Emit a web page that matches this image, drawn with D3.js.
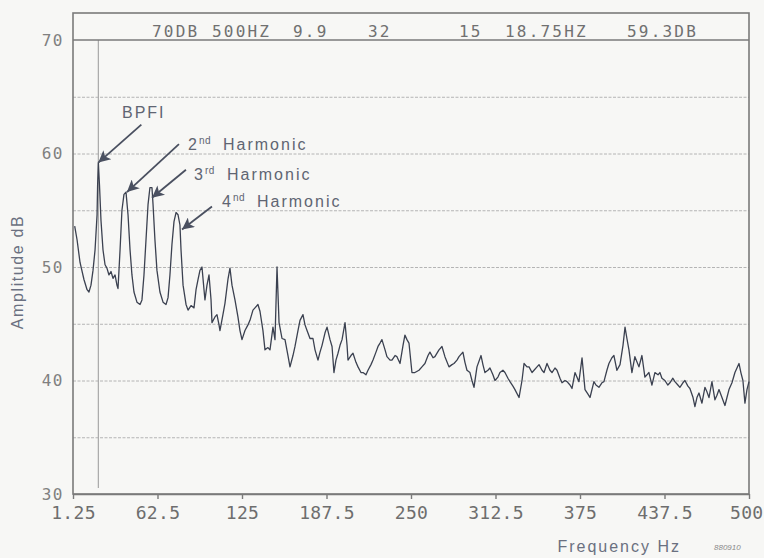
<!DOCTYPE html>
<html>
<head>
<meta charset="utf-8">
<script src="https://cdn.jsdelivr.net/npm/d3@7"></script>
<style>
  html, body { margin: 0; padding: 0; background: #f7f7f5; }
  svg { display: block; }
</style>
</head>
<body>
<div id="chart"></div>
<script>
// spectrum: frequency (Hz) and amplitude (dB)
const freqHz = [1.25, 3.0, 5.2, 8.1, 10.4, 11.8, 13.3, 14.8, 16.3, 17.8, 18.2, 18.75, 19.6, 20.7, 22.2, 23.7, 25.1, 26.6, 28.1, 29.6,
  31.1, 32.5, 33.3, 34.8, 36.2, 37.7, 39.2, 40.7, 42.2, 43.6, 45.1, 47.3, 49.6, 51.0, 52.5, 54.0, 55.5, 56.9, 58.4, 59.2,
  60.6, 62.1, 64.3, 66.6, 68.8, 70.3, 71.7, 73.2, 74.7, 76.2, 77.7, 79.1, 79.9, 81.4, 83.6, 85.1, 87.3, 89.5, 91.0, 92.5,
  93.9, 95.4, 96.9, 97.6, 99.1, 100.6, 102.1, 102.8, 105.0, 106.5, 108.0, 108.7, 110.9, 112.4, 114.6, 116.1, 117.6, 119.8, 122.0, 123.5,
  125.0, 127.2, 129.4, 130.9, 133.1, 134.6, 136.8, 138.3, 140.5, 142.0, 144.2, 145.7, 147.9, 149.4, 150.9, 152.4, 154.6, 156.8, 159.0, 160.5,
  162.7, 164.2, 166.4, 167.9, 170.1, 171.6, 173.1, 175.3, 177.5, 179.0, 181.2, 182.7, 184.2, 186.4, 187.9, 190.1, 191.6, 193.0, 194.5, 196.0,
  197.5, 199.0, 201.2, 202.7, 203.4, 205.6, 207.1, 209.3, 210.8, 213.0, 214.5, 216.7, 218.2, 220.4, 221.9, 224.1, 225.6, 227.1, 228.5, 230.8,
  232.2, 234.5, 235.9, 238.2, 239.6, 241.9, 244.1, 245.5, 247.0, 248.5, 250.7, 252.9, 255.9, 258.1, 260.3, 262.6, 264.0, 266.3, 267.7, 270.7,
  272.9, 275.1, 278.1, 280.3, 281.8, 284.0, 285.5, 288.4, 289.9, 291.4, 293.6, 295.1, 296.6, 298.8, 301.8, 303.2, 304.7, 306.9, 308.4, 310.6,
  312.1, 314.3, 315.8, 318.0, 319.5, 321.7, 323.2, 325.4, 326.9, 329.9, 332.1, 333.6, 335.8, 337.3, 339.5, 341.0, 343.2, 344.7, 346.9, 348.4,
  350.6, 352.8, 354.3, 356.5, 358.0, 360.2, 361.7, 363.9, 365.4, 367.6, 369.1, 371.3, 374.2, 376.5, 378.7, 380.9, 382.4, 385.3, 386.8, 389.0,
  391.2, 392.7, 394.9, 396.4, 398.6, 400.1, 402.3, 404.6, 406.8, 408.3, 409.7, 411.2, 413.4, 415.6, 418.6, 420.8, 423.0, 426.0, 428.2, 430.4,
  432.7, 434.1, 435.6, 437.8, 440.0, 441.5, 443.7, 445.2, 447.4, 448.9, 451.1, 452.6, 454.8, 456.3, 458.6, 460.0, 461.5, 463.0, 465.2, 467.4,
  468.9, 470.4, 472.6, 474.8, 476.3, 477.8, 480.0, 482.2, 483.7, 485.2, 487.4, 489.6, 491.1, 492.6, 494.0, 495.5, 497.0, 498.5, 500.0];

const ampDb = [53.6, 52.4, 50.4, 48.9, 48.0, 47.8, 48.4, 49.7, 51.5, 54.6, 57.2, 59.2, 57.2, 54.1, 51.5, 50.2, 49.9, 49.3, 49.6, 49.0,
  49.3, 48.4, 48.1, 51.5, 55.0, 56.4, 56.6, 54.6, 51.5, 49.3, 47.8, 46.9, 46.7, 47.1, 49.3, 52.4, 55.5, 57.0, 57.0, 55.5,
  52.4, 49.7, 47.8, 46.9, 46.7, 47.3, 49.3, 52.0, 54.0, 54.8, 54.6, 53.7, 51.5, 48.4, 46.7, 46.2, 46.6, 46.4, 48.0, 48.9,
  49.7, 50.0, 48.0, 47.1, 48.4, 49.3, 47.1, 45.1, 45.6, 45.8, 44.9, 44.4, 45.8, 46.8, 48.9, 49.9, 48.4, 47.1, 45.6, 44.4,
  43.6, 44.4, 44.9, 45.3, 46.2, 46.4, 46.7, 46.1, 44.4, 42.7, 42.9, 42.7, 44.7, 43.6, 50.0, 45.1, 43.7, 43.6, 42.2, 41.2,
  42.2, 43.0, 44.4, 45.3, 45.8, 44.9, 44.4, 43.7, 43.7, 42.7, 41.8, 42.5, 43.1, 44.2, 44.7, 43.6, 43.0, 40.7, 41.8, 42.4,
  43.1, 43.6, 45.1, 43.1, 41.8, 42.2, 42.4, 41.6, 41.2, 40.7, 40.7, 40.5, 40.9, 41.4, 41.8, 42.5, 43.0, 43.3, 43.6, 42.7,
  42.1, 41.8, 41.8, 42.2, 42.1, 41.5, 43.1, 44.0, 43.6, 43.3, 40.7, 40.7, 40.9, 41.2, 41.5, 42.2, 42.5, 42.0, 42.1, 42.7,
  43.0, 42.1, 41.2, 41.4, 41.5, 41.8, 42.1, 42.5, 41.6, 40.9, 40.7, 40.0, 39.4, 41.2, 42.2, 41.4, 40.7, 40.9, 41.1, 40.5,
  40.0, 40.3, 40.7, 40.9, 40.7, 40.2, 39.9, 39.5, 39.2, 38.5, 40.0, 41.5, 41.2, 41.2, 40.7, 40.9, 41.2, 41.4, 40.9, 40.7,
  41.5, 40.9, 40.7, 41.1, 40.9, 40.2, 39.8, 40.0, 39.9, 39.6, 39.3, 40.7, 39.9, 42.0, 39.2, 38.8, 38.5, 39.9, 39.6, 39.4,
  39.8, 39.9, 40.9, 41.5, 42.0, 42.2, 40.9, 41.4, 43.1, 44.7, 43.7, 42.7, 40.7, 42.1, 41.2, 42.2, 40.3, 40.7, 39.6, 40.7,
  40.5, 40.7, 40.2, 40.0, 39.6, 39.8, 40.2, 39.9, 39.6, 39.4, 39.8, 40.0, 39.5, 39.3, 38.5, 37.7, 38.5, 38.9, 38.0, 39.4,
  39.0, 38.5, 39.9, 38.3, 38.7, 39.2, 38.5, 37.8, 38.5, 39.2, 39.8, 40.7, 41.1, 41.5, 40.7, 40.0, 38.0, 39.2, 39.9];

const xTickValues = [0, 62.5, 125, 187.5, 250, 312.5, 375, 437.5, 500];
const xTickLabels = ["1.25", "62.5", "125", "187.5", "250", "312.5", "375", "437.5", "500"];
const yTickValues = [30, 40, 50, 60, 70];
const yGridValues = [35, 40, 45, 50, 55, 60, 65];
const cursorHz = 18.75;

const headerItems = ["70DB", "500HZ", "9.9", "32", "15", "18.75HZ", "59.3DB"];

// arrow tips in data units (Hz, dB)
const annotLabels = ["BPFI", "2", "3", "4"];
const annotSup = ["", "nd", "rd", "nd"];
const annotTipHz = [18.75, 39.9, 58.4, 80.6];
const annotTipDb = [59.2, 56.6, 56.1, 53.3];

const W = 764, H = 558;
const plot = {left: 73, right: 749, top: 40, bottom: 494, frameTop: 13};

const svg = d3.select("#chart").append("svg")
  .attr("width", W)
  .attr("height", H)
  .style("background", "#f7f7f5");

const x = d3.scaleLinear().domain([0, 500]).range([plot.left, plot.right]);
const y = d3.scaleLinear().domain([30, 70]).range([plot.bottom, plot.top]);

const mono = "'DejaVu Sans Mono', 'Liberation Mono', monospace";
const sans = "'Liberation Sans', Arial, sans-serif";

// grid
svg.append("g")
  .attr("transform", `translate(${plot.left},0)`)
  .call(d3.axisLeft(y).tickValues(yGridValues).tickSize(-(plot.right - plot.left)).tickFormat(""))
  .call(g => g.select(".domain").remove())
  .selectAll("line")
    .attr("stroke", "#b4b4b4")
    .attr("stroke-width", 1)
    .attr("stroke-dasharray", "3,1.5");

// cursor line
svg.append("line")
  .attr("x1", x(cursorHz)).attr("x2", x(cursorHz))
  .attr("y1", plot.top).attr("y2", plot.bottom - 6)
  .attr("stroke", "#a8a8a8")
  .attr("stroke-width", 1.2);

// frame + header band
svg.append("rect")
  .attr("x", plot.left).attr("y", plot.frameTop)
  .attr("width", plot.right - plot.left)
  .attr("height", plot.bottom - plot.frameTop)
  .attr("fill", "none")
  .attr("stroke", "#7a7a7a")
  .attr("stroke-width", 1.6);

svg.append("line")
  .attr("x1", plot.left).attr("x2", plot.right)
  .attr("y1", y(70)).attr("y2", y(70))
  .attr("stroke", "#7a7a7a")
  .attr("stroke-width", 1.6);

const headerX = [152, 212, 293, 368, 459, 505, 627];
svg.append("g").selectAll("text")
  .data(headerItems)
  .join("text")
    .attr("x", (d, i) => headerX[i])
    .attr("y", 37)
    .style("font-family", mono)
    .style("font-size", "16px")
    .style("letter-spacing", "2.2px")
    .attr("fill", "#707070")
    .text(d => d);

// x axis
const xAxis = svg.append("g")
  .attr("transform", `translate(0,${plot.bottom})`)
  .call(d3.axisBottom(x).tickValues(xTickValues).tickFormat((d, i) => xTickLabels[i]).tickSize(5).tickSizeOuter(0));
xAxis.select(".domain").attr("stroke", "#7a7a7a").attr("stroke-width", 1.6);
xAxis.selectAll(".tick line").attr("stroke", "#7a7a7a").attr("stroke-width", 1.4);
xAxis.selectAll(".tick text")
  .attr("y", 12)
  .attr("dy", "0.71em")
  .attr("fill", "#6e6e6e")
  .style("font-family", mono)
  .style("font-size", "18px")
  .style("letter-spacing", "0.3px");
// last label sits against the right edge
xAxis.selectAll(".tick text")
  .filter((d, i) => i === xTickValues.length - 1)
  .attr("text-anchor", "end")
  .attr("x", 14);

// y axis labels
const yAxis = svg.append("g")
  .attr("transform", `translate(${plot.left},0)`)
  .call(d3.axisLeft(y).tickValues(yTickValues).tickSize(0).tickPadding(9));
yAxis.select(".domain").remove();
yAxis.selectAll(".tick text")
  .attr("fill", "#808080")
  .style("font-family", mono)
  .style("font-size", "16px")
  .style("letter-spacing", "1.5px");

// spectrum
const points = freqHz.map((f, i) => ({f: f, a: ampDb[i]}));
svg.append("path")
  .datum(points)
  .attr("fill", "none")
  .attr("stroke", "#3b4150")
  .attr("stroke-width", 1.3)
  .attr("stroke-linejoin", "round")
  .attr("d", d3.line().x(d => x(d.f)).y(d => y(d.a)));

// annotations
svg.append("defs").append("marker")
  .attr("id", "head")
  .attr("viewBox", "0 0 10 10")
  .attr("refX", 10).attr("refY", 5)
  .attr("markerUnits", "userSpaceOnUse")
  .attr("markerWidth", 17).attr("markerHeight", 12)
  .attr("orient", "auto")
  .append("path")
    .attr("d", "M0,0 L10,5 L0,10 L2.5,5 Z")
    .attr("fill", "#4a5060");

const arrowFrom = [[43, -38], [52, -48], [34, -28], [30, -23]];
const labelPos = [[122, 118], [188, 150], [194, 180], [222, 207]];
const wordX = [0, 223, 227, 257];

annotLabels.forEach((lab, i) => {
  const tx = x(annotTipHz[i]), ty = y(annotTipDb[i]);
  svg.append("line")
    .attr("x1", tx + arrowFrom[i][0]).attr("y1", ty + arrowFrom[i][1])
    .attr("x2", tx).attr("y2", ty)
    .attr("stroke", "#4a5060")
    .attr("stroke-width", 1.8)
    .attr("marker-end", "url(#head)");

  const t = svg.append("text")
    .attr("x", labelPos[i][0])
    .attr("y", labelPos[i][1])
    .attr("fill", "#5f6572")
    .style("font-family", sans)
    .style("font-size", "16px")
    .style("letter-spacing", "2px");
  t.append("tspan").text(lab);
  if (annotSup[i]) {
    t.append("tspan")
      .attr("dy", -6)
      .style("font-size", "10px")
      .style("letter-spacing", "0.5px")
      .text(annotSup[i]);
    t.append("tspan")
      .attr("x", wordX[i])
      .attr("y", labelPos[i][1])
      .text("Harmonic");
  }
});

// axis titles
svg.append("text")
  .attr("transform", "translate(23,272) rotate(-90)")
  .attr("text-anchor", "middle")
  .attr("fill", "#6a7080")
  .style("font-family", sans)
  .style("font-size", "16px")
  .style("letter-spacing", "1.6px")
  .text("Amplitude dB");

svg.append("text")
  .attr("x", 681)
  .attr("y", 552)
  .attr("text-anchor", "end")
  .attr("fill", "#6a7080")
  .style("font-family", sans)
  .style("font-size", "16px")
  .style("letter-spacing", "2px")
  .text("Frequency Hz");

svg.append("text")
  .attr("x", 714)
  .attr("y", 550)
  .attr("fill", "#8a8a8a")
  .style("font-family", sans)
  .style("font-size", "8px")
  .style("font-style", "italic")
  .text("880910");
</script>
</body>
</html>
